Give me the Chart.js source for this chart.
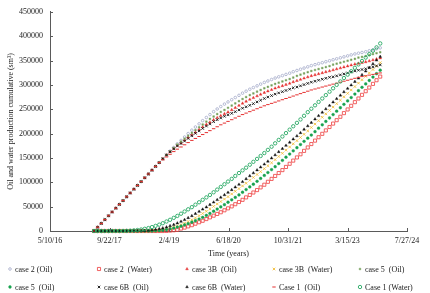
<!DOCTYPE html>
<html>
<head>
<meta charset="utf-8">
<script src="https://cdn.jsdelivr.net/npm/chart.js@4.4.1/dist/chart.umd.min.js"></script>
<style>
  html,body{margin:0;padding:0;background:#fff;}
  #c{display:block;}
</style>
</head>
<body>
<canvas id="c" width="430" height="293"></canvas>
<script>
// Time axis values: Excel date serials (days since 1899-12-30), one per month
const xDays = [42870,42900,42931,42961,42992,43022,43053,43083,43114,43144,
43174,43205,43235,43266,43296,43327,43357,43387,43418,43448,
43479,43509,43540,43570,43601,43631,43661,43692,43722,43753,
43783,43814,43844,43875,43905,43935,43966,43996,44027,44057,
44088,44118,44148,44179,44209,44240,44270,44301,44331,44362,
44392,44422,44453,44483,44514,44544,44575,44605,44635,44666,
44696,44727,44757,44788,44818,44849,44879,44909,44940,44970,
45001,45031,45062,45092,45122,45153,45183,45214,45244,45275];

const xTickValues = [42500,43000,43500,44000,44500,45000,45500];
const yTickValues = [0,50000,100000,150000,200000,250000,300000,350000,400000,450000];

const seriesNames = ["case 2 (Oil)","case 2  (Water)","case 3B  (Oil)","case 3B  (Water)","case 5  (Oil)",
                     "case 5  (Oil)","case 6B  (Oil)","case 6B  (Water)","Case 1  (Oil)","Case 1 (Water)"];

const case2Oil = [0,7800,15600,23400,31200,39000,46800,54600,62400,70200,
78000,85800,93600,101400,109200,117000,124800,132600,140400,148200,
156000,164000,171500,179000,186000,193000,200000,207000,213500,220000,
226500,233000,239000,245000,250500,255500,260500,265000,269500,274000,
278500,283000,287000,291000,294500,298000,301500,305000,308000,311000,
314000,316500,319000,321500,324000,327000,329500,332000,334500,337000,
339500,341500,343500,345500,347500,349500,351500,353500,355500,357500,
359500,361500,363500,365000,366500,368000,370000,372000,374000,376000];

const case2Water = [0,0,0,0,0,0,0,0,0,0,
0,0,0,0,0,0,0,0,0,0,
300,800,1500,2500,5000,7000,9500,12000,15000,18000,
21000,24500,28000,31500,35000,38500,42500,46500,50500,55000,
59500,64000,69000,74000,79000,84000,89500,95000,101000,107000,
113000,119000,125000,131500,138000,144500,151000,157500,164500,171500,
178500,185500,192500,199500,206500,213500,220500,227500,234500,242000,
249500,257000,264500,272000,279500,287000,294500,302000,309500,317000];

const case3BOil = [0,7800,15600,23400,31200,39000,46800,54600,62400,70200,
78000,85800,93600,101400,109200,117000,124800,132600,140400,148200,
156000,163000,169500,175500,181000,186500,192000,197500,202500,208000,
213500,218500,223000,228000,232500,236500,240500,244000,248500,253000,
257500,262000,266000,270000,273500,277000,280500,284000,287000,290000,
293000,295500,298000,300500,303000,306000,308500,311000,313500,316000,
318500,320500,322500,324500,326500,328500,330500,332500,334500,336500,
338500,340500,342500,344000,345500,347000,349000,351000,353000,355000];

const case3BWater = [0,0,0,0,0,0,0,0,0,0,
0,0,0,0,0,0,500,1000,2000,3000,
4500,6000,8000,10500,13000,16000,19500,23000,27000,31500,
36000,40500,45500,50500,55500,60500,65500,70500,76000,81500,
87000,92500,98000,104000,110000,116000,122000,128000,134000,140000,
146500,153000,159500,166000,172500,179000,185500,192000,198500,205500,
212500,219500,226500,233500,240500,247500,254500,261500,268500,275500,
282500,289500,296500,303500,310500,317500,324500,331500,338500,345500];

const case5OilA = [0,7800,15600,23400,31200,39000,46800,54600,62400,70200,
78000,85800,93600,101400,109200,117000,124800,132600,140400,148200,
156000,163500,170500,177500,183500,189500,195500,201500,207000,213000,
218500,224500,230000,235000,240000,244500,248500,253000,257500,262000,
266500,271000,275000,279000,282500,286000,289500,293000,296000,299000,
302000,304500,307000,309500,312000,315000,318500,321000,323500,326000,
328500,330500,332500,334500,336500,338500,341500,343500,345500,347500,
349500,351500,353500,356000,357500,359000,361000,363000,365000,367000];

const case5OilB = [0,0,0,0,0,0,0,0,0,0,
0,0,0,0,0,0,0,500,1000,2000,
3000,4500,6000,8000,10000,12500,15000,18000,21000,24500,
28000,32000,36000,40500,45000,49500,54000,59000,64000,69000,
74000,79500,85000,90500,96000,102000,108000,114000,120000,126000,
132000,138500,145000,151500,158000,164500,171000,177500,184000,190500,
197000,204000,211000,218000,225000,232000,239000,246000,253000,260000,
267000,274000,281000,288000,295000,302000,309000,316000,323000,330000];

const case6BOil = [0,7800,15600,23400,31200,39000,46800,54600,62400,70200,
78000,85800,93600,101400,109200,117000,124800,132600,140400,148200,
156000,162500,168500,174500,179500,184500,190000,195500,200500,205500,
210500,215500,220000,224500,228500,232000,235500,238500,241500,245000,
248500,252000,255000,258000,261500,265000,268500,272000,275000,278000,
281000,283500,286000,288500,291000,294000,295500,298000,300500,303000,
305500,307500,309500,311500,313500,315500,316500,318500,320500,322500,
324500,326500,328500,330000,331500,333000,335000,337000,339000,341000];

const case6BWater = [0,0,0,0,0,0,0,0,0,0,
0,0,0,0,500,1000,2000,3000,4500,6000,
8000,10500,13000,16000,19500,23000,27000,31000,35500,40000,
44500,49000,54000,59000,64000,69000,74000,79000,84500,90000,
95500,101000,107000,113000,119000,125000,131000,137000,143000,149500,
156000,162500,169000,175500,182000,188500,195000,201500,208500,215500,
222500,229500,236500,243500,250500,257500,264500,271500,278500,285500,
292500,299500,306500,313500,320500,328000,335500,343000,350500,358000];

const case1Oil = [0,7800,15600,23400,31200,39000,46800,54600,62400,70200,
78000,85800,93600,101400,109200,117000,124800,132600,140400,146000,
152000,157500,163000,168000,172500,177000,181500,186000,190000,194000,
198000,202000,206000,210000,214000,218000,221500,225000,228500,232000,
235500,239000,242000,245000,248000,251000,254000,257000,259500,262000,
264500,267000,269500,272000,274500,277000,279500,282000,284500,287000,
289500,291500,293500,295500,297500,299500,301500,303500,305500,307500,
309500,311500,313500,315500,317000,318500,320000,321500,323000,324500];

const case1Water = [0,0,0,0,0,0,0,0,100,300,
600,1200,2000,3000,4500,6000,8000,10500,13000,16000,
19500,23000,27000,31000,35500,40000,44500,49000,54000,59000,
64000,69000,74000,79500,85000,90500,96000,101500,107000,113000,
119000,124500,130000,136000,142000,148000,154000,160000,166500,173000,
180000,187000,194000,201000,208000,215000,222000,229000,236500,244000,
251000,258000,265000,272000,279000,286000,293000,300000,307000,314000,
321000,328000,335000,342000,349000,356000,363000,370000,377000,385000];

const seriesValues = [case2Oil, case2Water, case3BOil, case3BWater, case5OilA,
                      case5OilB, case6BOil, case6BWater, case1Oil, case1Water];

// marker styles (presentation only)
const markerStyles = [
  {pointStyle:'circle',   radius:1.3, border:'#A3A9C9', fill:'rgba(255,255,255,0)', bw:0.8},
  {pointStyle:'rect',     radius:2.2, border:'#EE3B3B', fill:'rgba(255,255,255,0)', bw:0.8},
  {pointStyle:'triangle', radius:1.6, border:'#E53030', fill:'#E53030', bw:0.4},
  {pointStyle:'crossRot', radius:1.8, border:'#F2BE3A', fill:'#F2BE3A', bw:0.9},
  {pointStyle:'rect',     radius:1.2, border:'#74A05A', fill:'#74A05A', bw:0.4},
  {pointStyle:'circle',   radius:1.4, border:'#17A24E', fill:'#17A24E', bw:0.4},
  {pointStyle:'crossRot', radius:1.8, border:'#111111', fill:'#111111', bw:0.9},
  {pointStyle:'triangle', radius:1.6, border:'#111111', fill:'#111111', bw:0.4},
  {pointStyle:'line',     radius:1.7, border:'#E53030', fill:'#E53030', bw:1.0},
  {pointStyle:'circle',   radius:1.7, border:'#25A862', fill:'rgba(255,255,255,0)', bw:0.9}
];

function serialToLabel(v){
  const d = new Date(Date.UTC(1899,11,30) + v*86400000);
  return (d.getUTCMonth()+1) + '/' + d.getUTCDate() + '/' + String(d.getUTCFullYear()).slice(-2);
}

const datasets = seriesNames.map((name, k) => {
  const s = markerStyles[k];
  return {
    label: name,
    data: xDays.map((x, i) => ({x: x, y: seriesValues[k][i]})),
    showLine: false,
    pointStyle: s.pointStyle,
    pointRadius: s.radius,
    pointHoverRadius: s.radius,
    pointBorderColor: s.border,
    pointBackgroundColor: s.fill,
    pointBorderWidth: s.bw,
    borderColor: s.border,
    backgroundColor: s.fill,
    order: 20 - k,
    clip: false
  };
});

const FONT = 'Liberation Serif, "Times New Roman", serif';
const AXIS_COLOR = '#5a5a5a';

const insideTicks = {
  id: 'insideTicks',
  afterDraw(chart){
    const ctx = chart.ctx, xs = chart.scales.x, ys = chart.scales.y, a = chart.chartArea;
    ctx.save();
    ctx.strokeStyle = AXIS_COLOR; ctx.lineWidth = 1;
    ctx.beginPath();
    xTickValues.forEach(v => { const p = Math.round(xs.getPixelForValue(v)) + 0.5; ctx.moveTo(p, a.bottom); ctx.lineTo(p, a.bottom - 3); });
    yTickValues.forEach(v => { const p = Math.round(ys.getPixelForValue(v)) + 0.5; ctx.moveTo(a.left, p); ctx.lineTo(a.left + 3, p); });
    ctx.stroke();
    ctx.restore();
  }
};

function drawMarker(ctx, s, x, y){
  ctx.save();
  ctx.strokeStyle = s.border; ctx.fillStyle = s.fill; ctx.lineWidth = s.bw;
  if (Chart.helpers && Chart.helpers.drawPoint) {
    Chart.helpers.drawPoint(ctx, {pointStyle: s.pointStyle, radius: s.radius, rotation: 0, borderWidth: s.bw}, x, y);
  } else {
    ctx.beginPath(); ctx.arc(x, y, s.radius, 0, Math.PI*2); ctx.fill(); ctx.stroke();
  }
  ctx.restore();
}

const gridLegend = {
  id: 'gridLegend',
  afterDraw(chart){
    const ctx = chart.ctx;
    const cols = [10, 99, 187, 274, 360];
    const rows = [269, 287];
    ctx.save();
    ctx.font = '8px ' + FONT;
    ctx.textBaseline = 'middle';
    ctx.textAlign = 'left';
    seriesNames.forEach((name, k) => {
      const cx = cols[k % 5], cy = rows[Math.floor(k / 5)];
      drawMarker(ctx, markerStyles[k], cx, cy);
      ctx.fillStyle = '#222';
      ctx.fillText(name, cx + 5, cy + 0.5);
    });
    ctx.restore();
  }
};

new Chart(document.getElementById('c'), {
  type: 'scatter',
  data: { datasets },
  plugins: [insideTicks, gridLegend],
  options: {
    responsive: false,
    animation: false,
    devicePixelRatio: 1,
    layout: { padding: { left: 0, right: 23, top: 8, bottom: 32 } },
    plugins: { legend: { display: false }, tooltip: { enabled: false } },
    scales: {
      x: {
        type: 'linear',
        min: 42500, max: 45500,
        afterBuildTicks(scale){ scale.ticks = xTickValues.map(v => ({value: v})); },
        afterFit(scale){ scale.height = 30; },
        grid: { display: false, drawTicks: false },
        border: { display: true, color: AXIS_COLOR, width: 1 },
        ticks: { padding: 5, color: '#222', font: { family: FONT, size: 8 }, maxRotation: 0, autoSkip: false,
                 callback: v => serialToLabel(v) },
        title: { display: true, text: 'Time (years)', color: '#222', font: { family: FONT, size: 8 }, padding: { top: 0, bottom: 2 } }
      },
      y: {
        type: 'linear',
        min: 0, max: 450000,
        afterBuildTicks(scale){ scale.ticks = yTickValues.map(v => ({value: v})); },
        afterFit(scale){ scale.width = 50; },
        grid: { display: false, drawTicks: false },
        border: { display: true, color: AXIS_COLOR, width: 1 },
        ticks: { padding: 7, color: '#222', font: { family: FONT, size: 8 }, autoSkip: false,
                 callback: v => String(v) },
        title: { display: true, text: 'Oil and water production cumulative (sm³)', color: '#222', font: { family: FONT, size: 8 }, padding: { top: 6, bottom: 0 } }
      }
    }
  }
});
</script>
</body>
</html>
